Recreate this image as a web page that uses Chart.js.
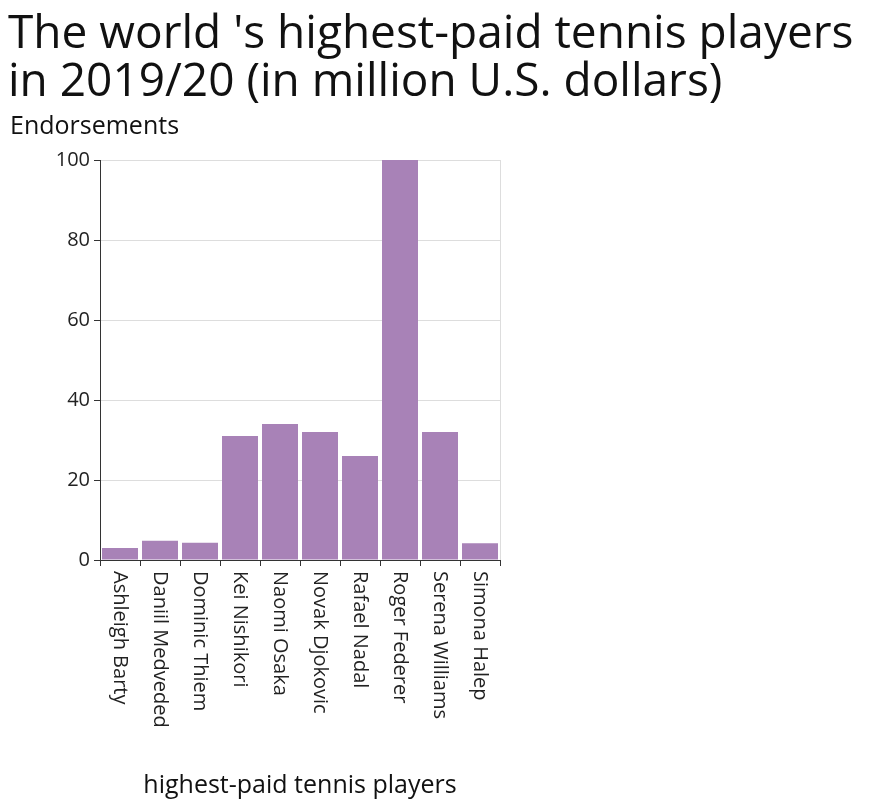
<!DOCTYPE html>
<html>
<head>
<meta charset="utf-8">
<script src="https://cdn.jsdelivr.net/npm/chart.js@4"></script>
<style>
  html, body { margin: 0; padding: 0; background: #fff; }
  #wrap { width: 896px; height: 808px; }
</style>
</head>
<body>
<div id="wrap"><canvas id="c" width="896" height="808"></canvas></div>
<script>
// values
const players = ['Ashleigh Barty', 'Daniil Medveded', 'Dominic Thiem', 'Kei Nishikori', 'Naomi Osaka',
  'Novak Djokovic', 'Rafael Nadal', 'Roger Federer', 'Serena Williams', 'Simona Halep'];
const endorsements = [3, 4.8, 4.3, 31, 34, 32, 26, 100, 32, 4.2];
const yTicks = [0, 20, 40, 60, 80, 100];

const FONT = '"Open Sans", "DejaVu Sans", sans-serif';

// text labels: title, axis titles, rotated category labels
const textPlugin = {
  id: 'texts',
  afterDraw(chart) {
    const ctx = chart.ctx;
    const area = chart.chartArea;
    const x = chart.scales.x;
    ctx.save();
    ctx.fillStyle = '#111';
    ctx.font = '46px ' + FONT;
    ctx.textBaseline = 'alphabetic';
    ctx.textAlign = 'left';
    ctx.fillText("The world 's highest-paid tennis players", 8, 48);
    ctx.fillText('in 2019/20 (in million U.S. dollars)', 8, 96);
    ctx.font = '25px ' + FONT;
    ctx.fillText('Endorsements', 10, 134);
    ctx.textAlign = 'center';
    ctx.fillText('highest-paid tennis players', (area.left + area.right) / 2, 793);

    // right border of plot
    ctx.strokeStyle = '#ddd';
    ctx.lineWidth = 1;
    ctx.beginPath();
    ctx.moveTo(area.right + 0.5, area.top);
    ctx.lineTo(area.right + 0.5, area.bottom);
    ctx.stroke();

    ctx.font = '20px ' + FONT;
    ctx.fillStyle = '#222';
    ctx.textAlign = 'left';
    ctx.textBaseline = 'middle';
    players.forEach((p, i) => {
      const px = x.getPixelForTick(i);
      ctx.save();
      ctx.translate(px, area.bottom + 11);
      ctx.rotate(Math.PI / 2);
      ctx.fillText(p, 0, 0);
      ctx.restore();
    });
    ctx.restore();
  }
};

new Chart(document.getElementById('c'), {
  type: 'bar',
  data: {
    labels: players,
    datasets: [{
      data: endorsements,
      backgroundColor: '#a882b7',
      barPercentage: 0.9,
      categoryPercentage: 1
    }]
  },
  options: {
    responsive: false,
    animation: false,
    layout: { padding: { top: 160, right: 396, left: 0, bottom: 0 } },
    plugins: { legend: { display: false }, title: { display: false }, tooltip: { enabled: false } },
    scales: {
      x: {
        afterFit: s => { s.height = 248; },
        grid: { display: true, drawOnChartArea: false, drawTicks: true, tickLength: 6, color: '#333' },
        border: { color: '#333' },
        ticks: { display: false }
      },
      y: {
        min: 0, max: 100,
        afterFit: s => { s.width = 100; },
        afterBuildTicks: s => { s.ticks = yTicks.map(v => ({ value: v })); },
        grid: { color: '#ddd', tickLength: 6, tickColor: '#333' },
        border: { color: '#333' },
        ticks: { color: '#222', font: { size: 20, family: FONT }, padding: 4 }
      }
    }
  },
  plugins: [textPlugin]
});
</script>
</body>
</html>
